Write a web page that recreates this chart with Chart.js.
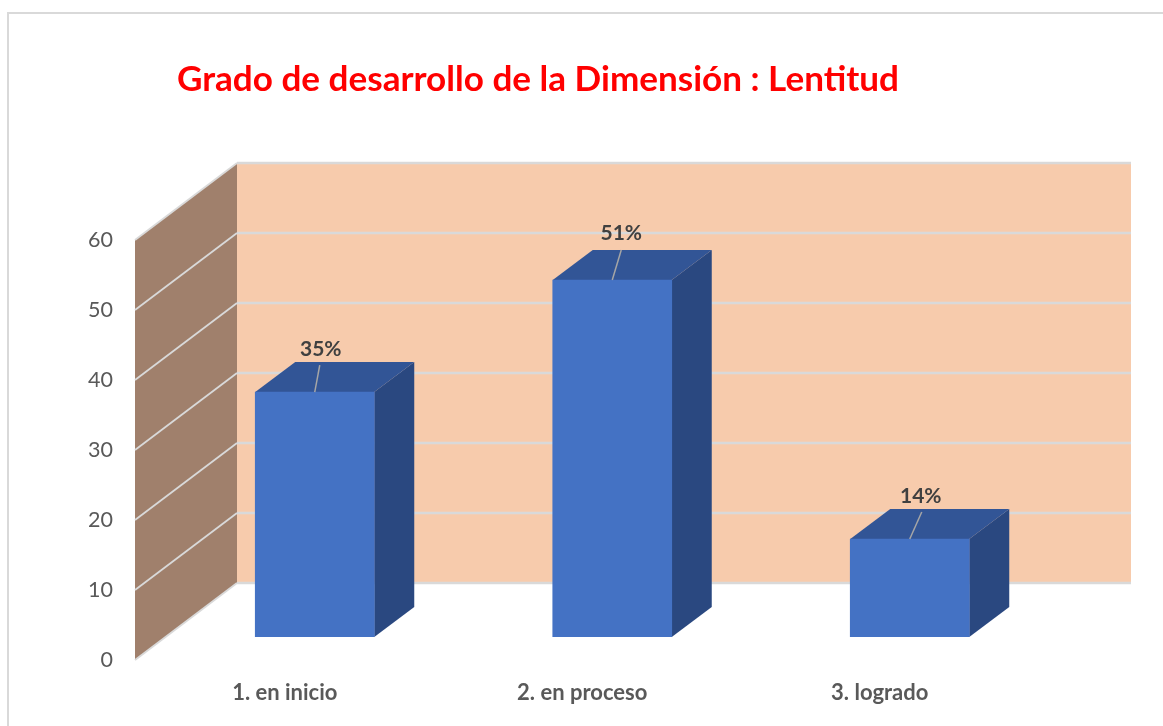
<!DOCTYPE html>
<html>
<head>
<meta charset="utf-8">
<style>html,body{margin:0;padding:0;background:#fff}canvas{display:block}</style>
<script src="https://cdn.jsdelivr.net/npm/chart.js@4"></script>
</head>
<body>
<canvas id="c" width="1163" height="726"></canvas>
<script>
const titleText = 'Grado de desarrollo de la Dimensión : Lentitud';
const categories = ['1. en inicio', '2. en proceso', '3. logrado'];
const values = [35, 51, 14];
const yMin = 0, yMax = 60, yStep = 10;

const wall = {dx: 102, dy: 77, right: 1131};
const barShift = {x: 30, y: -23};
const barDepth = {x: 40, y: 30};
const leaderTop = [{x: 5, y: -27}, {x: 9, y: -30}, {x: 12, y: -27}];
const labelOffset = [{x: 6, y: -44}, {x: 9, y: -48}, {x: 11, y: -44}];

const scene3d = {
  id: 'scene3d',
  afterLayout(chart) { chart.titleBlock.left = 177; },
  beforeDraw(chart) {
    const c = chart.ctx;
    c.save();
    c.fillStyle = '#fff';
    c.fillRect(0, 0, chart.width, chart.height);
    c.strokeStyle = '#d9d9d9';
    c.lineWidth = 2;
    c.beginPath();
    c.moveTo(8, 726); c.lineTo(8, 13); c.lineTo(1163, 13);
    c.stroke();
    c.restore();
  },
  beforeDatasetsDraw(chart) {
    const c = chart.ctx, y = chart.scales.y;
    const x0 = chart.chartArea.left - 1;
    const x1 = x0 + wall.dx;
    const top = y.getPixelForValue(yMax), bot = y.getPixelForValue(yMin);
    c.save();
    c.fillStyle = '#F7CBAC';
    c.fillRect(x1, top - wall.dy, wall.right - x1, bot - top);
    c.fillStyle = '#A0806C';
    c.beginPath();
    c.moveTo(x0, top); c.lineTo(x1, top - wall.dy); c.lineTo(x1, bot - wall.dy); c.lineTo(x0, bot);
    c.closePath(); c.fill();
    c.strokeStyle = '#D9D9D9';
    y.ticks.forEach(t => {
      const p = y.getPixelForValue(t.value);
      c.lineWidth = 1.8;
      c.beginPath();
      c.moveTo(x0, p); c.lineTo(x1, p - wall.dy);
      c.stroke();
      c.lineWidth = 2.6;
      c.beginPath();
      c.moveTo(x1, p - wall.dy); c.lineTo(wall.right, p - wall.dy);
      c.stroke();
    });
    c.restore();
  },
  beforeDatasetDraw(chart, args) {
    const c = chart.ctx;
    c.save();
    c.translate(barShift.x, barShift.y);
    args.meta.data.forEach(b => {
      const l = b.x - b.width / 2, r = b.x + b.width / 2;
      c.fillStyle = '#2A4880';
      c.beginPath();
      c.moveTo(r, b.y); c.lineTo(r + barDepth.x, b.y - barDepth.y);
      c.lineTo(r + barDepth.x, b.base - barDepth.y); c.lineTo(r, b.base);
      c.closePath(); c.fill();
      c.fillStyle = '#325596';
      c.beginPath();
      c.moveTo(l, b.y); c.lineTo(l + barDepth.x, b.y - barDepth.y);
      c.lineTo(r + barDepth.x, b.y - barDepth.y); c.lineTo(r, b.y);
      c.closePath(); c.fill();
    });
  },
  afterDatasetDraw(chart, args) {
    const c = chart.ctx;
    c.restore();
    c.save();
    args.meta.data.forEach((b, i) => {
      const cx = b.x + barShift.x, ty = b.y + barShift.y;
      c.strokeStyle = '#A6A6A6';
      c.lineWidth = 1.5;
      c.beginPath();
      c.moveTo(cx, ty);
      c.lineTo(cx + leaderTop[i].x, ty + leaderTop[i].y);
      c.stroke();
      c.fillStyle = '#404040';
      c.font = 'bold 21px Lato';
      c.textAlign = 'center';
      c.textBaseline = 'middle';
      c.fillText(values[i] + '%', cx + labelOffset[i].x, ty + labelOffset[i].y + 1);
    });
    c.restore();
  }
};

new Chart(document.getElementById('c'), {
  type: 'bar',
  data: {
    labels: categories,
    datasets: [{
      data: values,
      backgroundColor: '#4472C4',
      borderWidth: 0,
      barThickness: 119
    }]
  },
  options: {
    responsive: false,
    animation: false,
    events: [],
    layout: {padding: {left: 0, right: 134.5, top: 0, bottom: 0}},
    plugins: {
      legend: {display: false},
      tooltip: {enabled: false},
      title: {
        display: true,
        text: titleText,
        align: 'start',
        fullSize: false,
        color: '#FF0000',
        font: {family: 'Lato', size: 35.1, weight: 'bold', lineHeight: 1.2},
        padding: {top: 59, bottom: 138.9}
      }
    },
    scales: {
      x: {
        grid: {display: false, drawTicks: false},
        border: {display: false},
        afterFit(s) { s.height = 66; },
        ticks: {
          padding: 20,
          color: '#595959',
          maxRotation: 0,
          font: {family: 'Lato', size: 22, weight: 'bold'}
        }
      },
      y: {
        min: yMin,
        max: yMax,
        grid: {display: false, drawTicks: false},
        border: {display: false},
        afterFit(s) { s.width = 136; },
        ticks: {
          stepSize: yStep,
          padding: 23,
          color: '#595959',
          font: {family: 'Lato', size: 21.5}
        }
      }
    }
  },
  plugins: [scene3d]
});
</script>
</body>
</html>
